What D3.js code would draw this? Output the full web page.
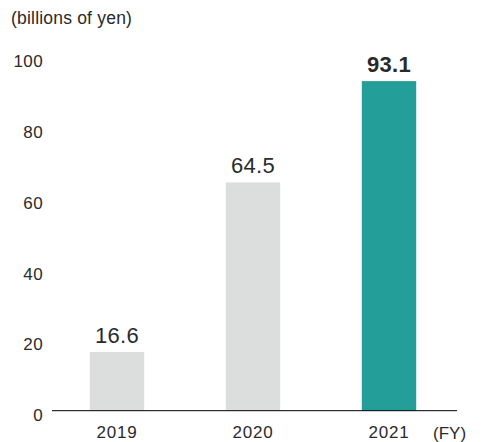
<!DOCTYPE html>
<html>
<head>
<meta charset="utf-8">
<script src="https://cdn.jsdelivr.net/npm/d3@7"></script>
<style>
  body { margin: 0; background: #fff; }
  text { font-family: "Liberation Sans", Arial, sans-serif; fill: #2a2a2a; }
</style>
</head>
<body>
<svg id="chart"></svg>
<script>
const years = ["2019", "2020", "2021"];
const values = [16.6, 64.5, 93.1];
const barColors = ["#dcdedd", "#dcdedd", "#239e98"];
const yTicks = [0, 20, 40, 60, 80, 100];

const width = 500, height = 442;
const margin = { top: 56.7, bottom: 31.3, left: 52, right: 43 };

const svg = d3.select("#chart")
	.attr("width", width)
	.attr("height", height);

// scales
const x = d3.scaleBand()
	.domain(years)
	.range([49, 457])
	.paddingInner(0.6)
	.paddingOuter(0.3);

const y = d3.scaleLinear()
	.domain([0, 100])
	.range([height - margin.bottom, margin.top]);

// unit label
svg.append("text")
	.attr("x", 11)
	.attr("y", 24)
	.attr("font-size", 17.5)
	.attr("letter-spacing", 0.2)
	.text("(billions of yen)");

// y axis labels
const yAxis = g => g.attr("transform", `translate(${margin.left - 9}, 0)`)
	.call(d3.axisLeft(y).tickValues(yTicks).tickSize(0).tickPadding(0))
	.call(g => g.select(".domain").remove())
	.call(g => g.selectAll("text")
		.attr("font-size", 17)
		.attr("letter-spacing", 0.4)
		.attr("font-family", "Liberation Sans, Arial, sans-serif")
		.attr("fill", "#2a2a2a")
		.attr("dy", "0.65em")
		.attr("transform", "translate(0,-1)"));
svg.append("g").call(yAxis);

// bars
svg.append("g")
	.selectAll("rect")
	.data(values)
	.join("rect")
	.attr("x", (d, i) => x(years[i]))
	.attr("y", d => y(d))
	.attr("width", x.bandwidth())
	.attr("height", d => y(0) - y(d))
	.attr("fill", (d, i) => barColors[i]);

// value labels
svg.append("g")
	.selectAll("text")
	.data(values)
	.join("text")
	.attr("x", (d, i) => x(years[i]) + x.bandwidth() / 2)
	.attr("y", d => y(d) - 9)
	.attr("text-anchor", "middle")
	.attr("font-size", 22)
	.attr("letter-spacing", 0.3)
	.attr("font-weight", (d, i) => i === values.length - 1 ? "bold" : "normal")
	.attr("fill", (d, i) => i === values.length - 1 ? "#000" : "#2a2a2a")
	.text(d => d.toFixed(1));

// x axis
const xAxis = g => g.attr("transform", `translate(0, ${y(0)})`)
	.call(d3.axisBottom(x).tickSize(0).tickPadding(15))
	.call(g => g.select(".domain").remove())
	.call(g => g.selectAll("text")
		.attr("font-size", 17)
		.attr("letter-spacing", 0.8)
		.attr("font-family", "Liberation Sans, Arial, sans-serif")
		.attr("fill", "#2a2a2a"));
svg.append("g").call(xAxis);

svg.append("line")
	.attr("x1", 52)
	.attr("x2", 457)
	.attr("y1", y(0))
	.attr("y2", y(0))
	.attr("stroke", "#000")
	.attr("stroke-width", 1);

svg.append("text")
	.attr("x", 433)
	.attr("y", 439)
	.attr("font-size", 17)
	.text("(FY)");
</script>
</body>
</html>
